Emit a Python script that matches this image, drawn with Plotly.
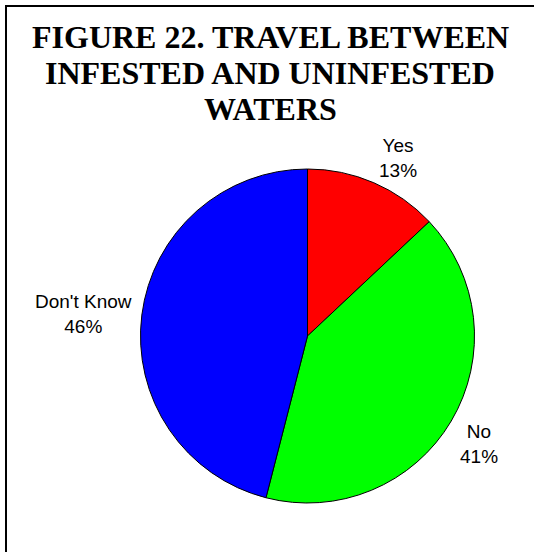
import math
import plotly.graph_objects as go

# Data
categories = ["Yes", "No", "Don't Know"]
values = [13, 41, 46]
colors = ["#FF0000", "#00FF00", "#0000FF"]
title_lines = ["FIGURE 22. TRAVEL BETWEEN", "INFESTED AND UNINFESTED", "WATERS"]

W, H = 534, 552
CX, CY, R = 307.5, 336, 167  # pie centre / radius in pixels

fig = go.Figure()
fig.add_trace(go.Pie(
    labels=categories,
    values=values,
    sort=False,
    direction="clockwise",
    rotation=0,
    marker=dict(colors=colors, line=dict(color="#000000", width=1)),
    textinfo="none",
    hoverinfo="label+percent",
    showlegend=False,
    domain=dict(x=[(CX - R) / W, (CX + R) / W],
                y=[(H - CY - R) / H, (H - CY + R) / H]),
))

# Outside-end labels placed at each slice's mid-angle (derived from the data)
total = sum(values)
cum = 0
gap = 8
pad = 6  # compensates the annotation box's line-height padding
for lab, v in zip(categories, values):
    mid = (cum + v / 2) / total * 2 * math.pi
    cum += v
    s, c = math.sin(mid), math.cos(mid)
    px = CX + (R + gap) * s
    py = CY - (R + gap) * c
    xa = "left" if s > 0.3 else ("right" if s < -0.3 else "center")
    ya = "bottom" if c > 0.3 else ("top" if c < -0.3 else "middle")
    if ya == "bottom":
        py += pad + 2
    elif ya == "top":
        py -= pad
    pct = round(v / total * 100)
    fig.add_annotation(
        text=f"{lab}<br>{pct}%", xref="paper", yref="paper",
        x=px / W, y=1 - py / H, xanchor=xa, yanchor=ya, align="center",
        showarrow=False,
        font=dict(family="Liberation Sans, Arial, sans-serif", size=19, color="#000000"),
    )

# Title lines (tight line spacing)
baselines = [48, 84, 120]
for line, b in zip(title_lines, baselines):
    fig.add_annotation(
        text=f"<b>{line}</b>", xref="paper", yref="paper",
        x=0.5 + 3 / W, y=1 - (b + 9) / H, xanchor="center", yanchor="bottom",
        showarrow=False,
        font=dict(family="Liberation Serif, Times New Roman, serif", size=32, color="#000000"),
    )

# Frame (top and left edges)
fig.add_shape(type="line", xref="paper", yref="paper",
              x0=6 / W, y0=0, x1=6 / W, y1=1 - 5 / H,
              line=dict(color="#000000", width=2))
fig.add_shape(type="line", xref="paper", yref="paper",
              x0=5 / W, y0=1 - 6 / H, x1=1, y1=1 - 6 / H,
              line=dict(color="#000000", width=2))

fig.update_layout(
    width=W, height=H,
    margin=dict(l=0, r=0, t=0, b=0),
    paper_bgcolor="#FFFFFF",
    plot_bgcolor="#FFFFFF",
)

fig.write_html("out.html", config={"displayModeBar": False},
               post_script="document.body.style.margin='0';document.body.style.overflow='hidden';")
